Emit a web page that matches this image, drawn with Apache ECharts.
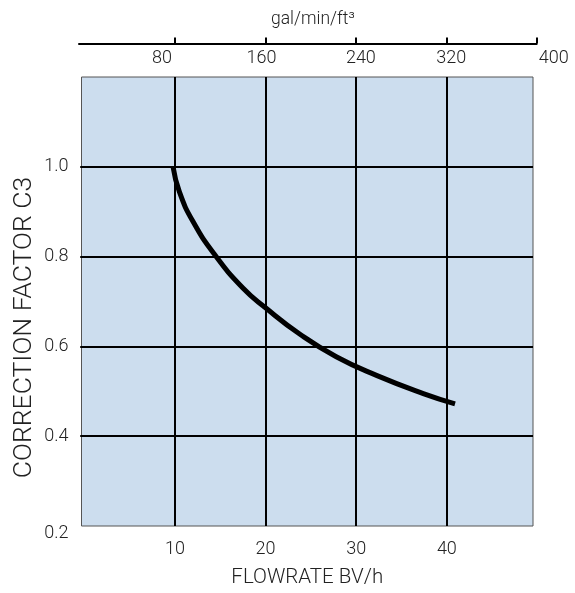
<!DOCTYPE html>
<html>
<head>
<meta charset="utf-8">
<script src="https://cdn.jsdelivr.net/npm/echarts@6/dist/echarts.min.js"></script>
<style>
  html, body { margin: 0; padding: 0; background: #fff; }
  #chart { width: 575px; height: 593px; }
</style>
</head>
<body>
<div id="chart"></div>
<script>
// curve: flowrate (BV/h) -> correction factor C3
const flowrate = [9.8, 10.5, 12.0, 14.4, 17.5, 20.0, 23.8, 27.8, 32.3, 37.4, 40.9]
const factorC3 = [1.0, 0.944, 0.878, 0.804, 0.730, 0.686, 0.627, 0.577, 0.535, 0.495, 0.472]

// tick labels
const flowTicks = [10, 20, 30, 40]
const galTicks = [80, 160, 240, 320, 400]
const factorTicks = [0.4, 0.6, 0.8, 1.0]
const factorLabels = [0.2, 0.4, 0.6, 0.8, 1.0]

const font = 'Roboto, "Liberation Sans", sans-serif'
const textColor = '#222'

// small nudges so the top labels sit like in the printed chart
const galShift = { 80: -13, 160: -4, 240: 5, 320: 5, 400: 17 }
const galRich = {}
galTicks.forEach(v => {
  const s = galShift[v] || 0
  galRich['g' + v] = {
    fontSize: 18,
    fontFamily: font,
    fontWeight: 300,
    color: textColor,
    padding: s < 0 ? [0, -2 * s, 0, 0] : [0, 0, 0, 2 * s]
  }
})

const chart = echarts.init(document.getElementById('chart'))

chart.setOption({
  animation: false,
  grid: [
    {
      left: 81.5,
      right: 42,
      top: 77,
      bottom: 62,
      show: true,
      backgroundColor: '#ccddee',
      borderColor: '#555',
      borderWidth: 1
    },
    // only carries the gal/min/ft³ scale above the plot
    {
      left: 79,
      right: 38.3,
      top: 77,
      bottom: 62
    }
  ],
  xAxis: [
    {
      type: 'value',
      gridIndex: 0,
      min: -0.3,
      max: 49.5,
      name: 'FLOWRATE BV/h',
      nameLocation: 'middle',
      nameGap: 41,
      nameTextStyle: { fontSize: 20.5, fontFamily: font, fontWeight: 300, color: textColor },
      axisLine: { show: false },
      axisTick: { show: false, customValues: flowTicks },
      axisLabel: {
        customValues: flowTicks,
        margin: 14,
        fontSize: 18,
        fontFamily: font,
        fontWeight: 300,
        color: textColor
      },
      splitLine: { show: true, lineStyle: { color: '#000', width: 2 } }
    },
    {
      type: 'value',
      gridIndex: 1,
      position: 'top',
      offset: 33.5,
      min: -5,
      max: 400,
      name: 'gal/min/ft³',
      nameLocation: 'middle',
      nameGap: 15,
      nameTextStyle: { fontSize: 17.5, fontFamily: font, fontWeight: 300, color: textColor, padding: [0, 0, 0, 10] },
      axisLine: { show: true, onZero: false, lineStyle: { color: '#000', width: 2 } },
      axisTick: {
        show: true,
        customValues: galTicks,
        length: 6,
        lineStyle: { color: '#000', width: 2 }
      },
      axisLabel: {
        customValues: galTicks,
        inside: true,
        margin: 6,
        formatter: v => '{g' + v + '|' + v + '}',
        rich: galRich
      },
      splitLine: { show: false }
    }
  ],
  yAxis: [
    {
      type: 'value',
      gridIndex: 0,
      min: 0.2,
      max: 1.2,
      name: 'CORRECTION FACTOR C3',
      nameLocation: 'middle',
      nameGap: 44,
      nameMoveOverlap: false,
      nameTextStyle: {
        fontSize: 26.5,
        fontFamily: font,
        fontWeight: 300,
        color: textColor,
        padding: [0, 52, 0, 0]
      },
      axisLine: { show: false },
      axisTick: {
        show: true,
        customValues: factorTicks,
        length: 4,
        lineStyle: { color: '#000', width: 2 }
      },
      axisLabel: {
        customValues: factorLabels,
        margin: 13,
        fontSize: 18,
        fontFamily: font,
        fontWeight: 300,
        color: textColor,
        formatter: v => v < 0.3 ? '{low|' + v.toFixed(1) + '}' : v.toFixed(1),
        rich: {
          low: { fontSize: 18, fontFamily: font, fontWeight: 300, color: textColor, padding: [14, 0, 0, 0] }
        }
      },
      splitLine: { show: true, lineStyle: { color: '#000', width: 2 } }
    },
    {
      type: 'value',
      gridIndex: 1,
      min: 0,
      max: 1,
      show: false
    }
  ],
  series: [
    {
      type: 'line',
      xAxisIndex: 0,
      yAxisIndex: 0,
      data: flowrate.map((x, i) => [x, factorC3[i]]),
      smooth: 0.5,
      showSymbol: false,
      lineStyle: { color: '#000', width: 5, cap: 'butt' }
    }
  ]
})
</script>
</body>
</html>
